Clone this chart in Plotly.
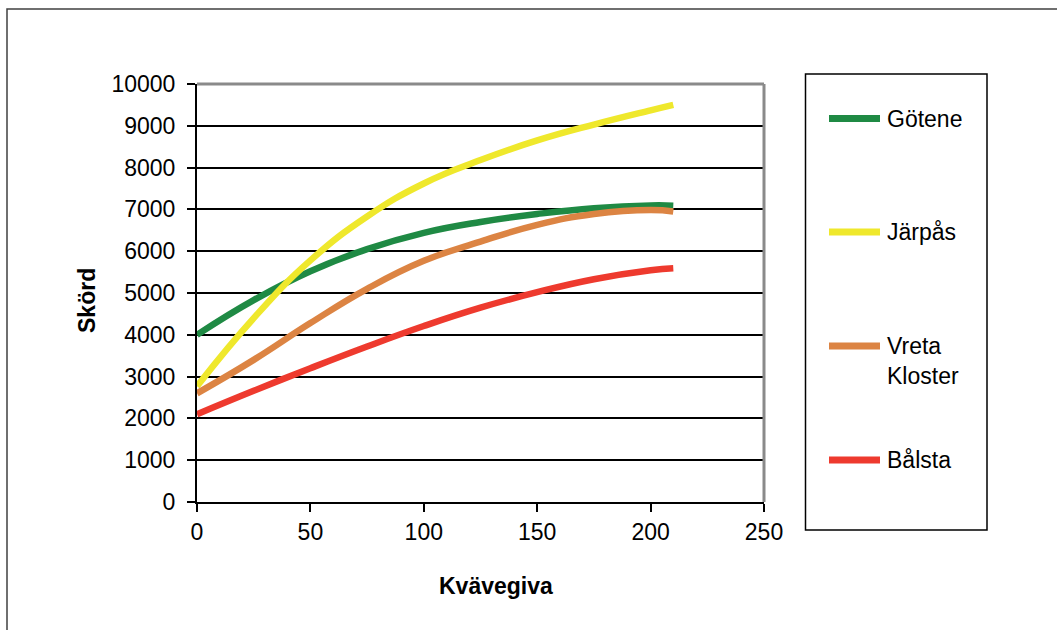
import plotly.graph_objects as go

# Nitrogen rate (kg N/ha) and yield (kg/ha) per site
nitrogen = [0, 25, 50, 75, 100, 125, 150, 175, 200, 210]
gotene = [4000, 4830, 5520, 6050, 6440, 6700, 6890, 7030, 7095, 7090]
jarpas = [2770, 4400, 5780, 6830, 7620, 8180, 8650, 9030, 9370, 9500]
vreta = [2600, 3400, 4280, 5100, 5770, 6230, 6630, 6890, 6985, 6950]
balsta = [2100, 2660, 3200, 3720, 4210, 4650, 5020, 5330, 5545, 5595]

site_names = ["Götene", "Järpås", "Vreta<br>Kloster", "Bålsta"]
site_values = [gotene, jarpas, vreta, balsta]
site_colors = ["#1f8a44", "#efe82c", "#dc8443", "#ee3a2e"]

x_ticks = [0, 50, 100, 150, 200, 250]
y_ticks = list(range(0, 10001, 1000))
y_tick_text = [str(v) for v in y_ticks]

W, H = 1057, 630
L, R, T, B = 197, 293, 84, 128
PW, PH = W - L - R, H - T - B


def px(xp):
    return (xp - L) / PW


def py(yp):
    return (H - B - yp) / PH


FONT = "Liberation Sans, Arial, sans-serif"

fig = go.Figure()
for name, vals, col in zip(site_names, site_values, site_colors):
    fig.add_trace(go.Scatter(
        x=nitrogen, y=vals, mode="lines", name=name.replace("<br>", " "),
        line=dict(color=col, width=6.5, shape="spline", smoothing=1.3),
        showlegend=False, hoverinfo="skip",
    ))

axis_common = dict(
    showline=True, linecolor="black", linewidth=2,
    ticks="outside", ticklen=8, tickwidth=1.5, tickcolor="black",
    tickfont=dict(family=FONT, size=23, color="black"),
    zeroline=False,
)

fig.update_xaxes(range=[0, 250], tickvals=x_ticks, showgrid=False,
                 ticklabelstandoff=0, **axis_common)
fig.update_yaxes(range=[0, 10000], tickvals=y_ticks, ticktext=y_tick_text,
                 showgrid=True, gridcolor="black", gridwidth=1.6,
                 ticklabelstandoff=7, **axis_common)

shapes = []
# grey top and right edges of the plotting area
shapes.append(dict(type="line", xref="paper", yref="paper", x0=0, x1=1, y0=1, y1=1,
                   line=dict(color="#8a8a8a", width=3), layer="above"))
shapes.append(dict(type="line", xref="paper", yref="paper", x0=1, x1=1, y0=0, y1=1,
                   line=dict(color="#8a8a8a", width=3), layer="above"))
# outer chart frame
shapes.append(dict(type="rect", xref="paper", yref="paper",
                   x0=px(7), x1=px(1100), y0=py(680), y1=py(9),
                   line=dict(color="#404040", width=1.5), layer="below"))
# legend box
shapes.append(dict(type="rect", xref="paper", yref="paper",
                   x0=px(805.5), x1=px(987), y0=py(530), y1=py(74),
                   line=dict(color="black", width=1.5), layer="above"))

annotations = []
legend_rows = [118.5, 232, 346, 460]
for name, col, yrow in zip(site_names, site_colors, legend_rows):
    shapes.append(dict(type="line", xref="paper", yref="paper",
                       x0=px(829), x1=px(880), y0=py(yrow), y1=py(yrow),
                       line=dict(color=col, width=7), layer="above"))
    if "<br>" in name:
        annotations.append(dict(xref="paper", yref="paper", x=px(885), y=py(yrow - 15),
                                xanchor="left", yanchor="top", align="left",
                                text=name, showarrow=False,
                                font=dict(family=FONT, size=23, color="black")))
    else:
        annotations.append(dict(xref="paper", yref="paper", x=px(885), y=py(yrow),
                                xanchor="left", yanchor="middle", align="left",
                                text=name, showarrow=False,
                                font=dict(family=FONT, size=23, color="black")))

# axis titles
annotations.append(dict(xref="paper", yref="paper", x=px(496), y=py(586),
                        xanchor="center", yanchor="middle", text="<b>Kvävegiva</b>",
                        showarrow=False, font=dict(family=FONT, size=23, color="black")))
annotations.append(dict(xref="paper", yref="paper", x=px(87), y=py(301),
                        xanchor="center", yanchor="middle", text="<b>Skörd</b>",
                        textangle=-90, showarrow=False,
                        font=dict(family=FONT, size=23, color="black")))

fig.update_layout(
    width=W, height=H,
    margin=dict(l=L, r=R, t=T, b=B),
    paper_bgcolor="white", plot_bgcolor="white",
    shapes=shapes, annotations=annotations,
    showlegend=False,
)

fig.write_html("out.html")
